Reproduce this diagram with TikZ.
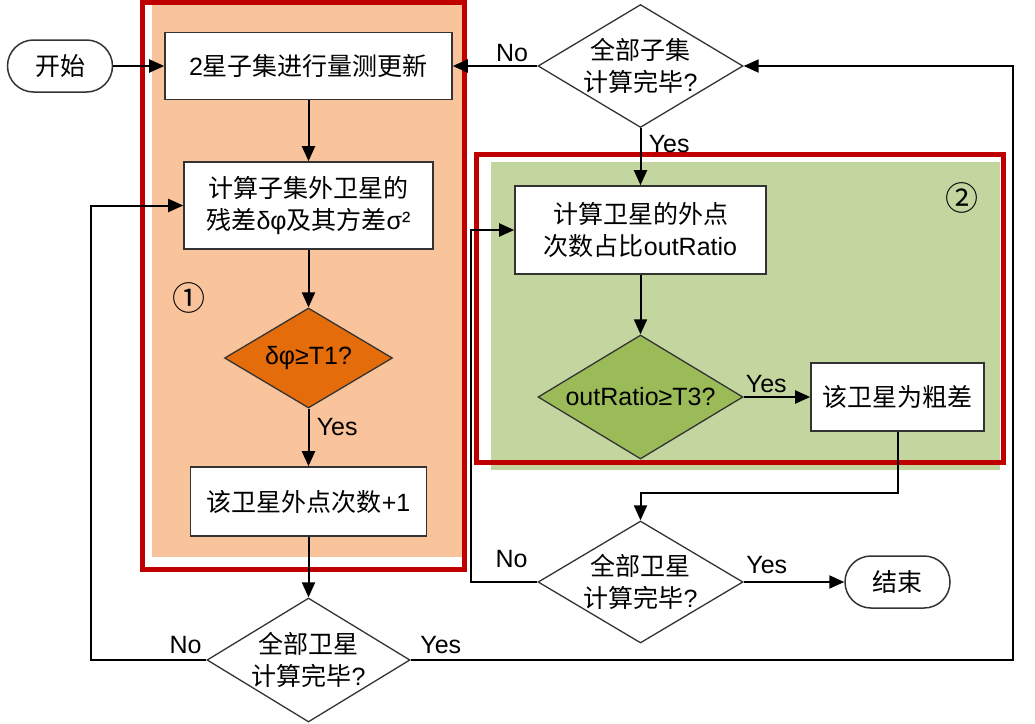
\documentclass[tikz,border=0pt]{standalone}
\usepackage{fontspec}
\setmainfont{Liberation Sans}
\newfontfamily\cjk{Noto Sans CJK SC}
\usetikzlibrary{shapes.geometric,arrows.meta}
\definecolor{frame}{HTML}{C00000}
\definecolor{orangebg}{HTML}{F9C49B}
\definecolor{orangedia}{HTML}{E46C0A}
\definecolor{greenbg}{HTML}{C4D69F}
\definecolor{greendia}{HTML}{9BBB59}
\begin{document}
\begin{tikzpicture}[x=1pt,y=-1pt,font=\fontsize{25}{32}\selectfont]
        \tikzstyle{process}=[rectangle,draw=black!80,line width=1.6pt,fill=white,inner sep=0pt,align=center]
        \tikzstyle{decision}=[diamond,draw=black!80,line width=1.3pt,fill=white,inner sep=-2pt,align=center]
        \tikzstyle{terminal}=[rectangle,rounded corners=26pt,draw=black!80,line width=1.5pt,fill=white,minimum width=105pt,minimum height=52pt]
        \tikzstyle{link}=[draw,line width=2pt,-{Triangle[length=15pt,width=13pt]}]
        \tikzstyle{region}=[draw=frame,line width=5pt]
        \tikzstyle{regionno}=[font=\fontsize{33}{33}\selectfont\cjk]
        \useasboundingbox (0,0) rectangle (1035,723);
        % region 1
        \fill[orangebg] (152,5) rectangle (462,557);
        \draw[region] (142.5,2.5) rectangle (464,569.5);
        \node [regionno] (one) at (189,298) {①};
        % region 2
        \fill[greenbg] (491,162) rectangle (1000,470);
        \draw[region] (476.5,154.5) rectangle (1003.5,462);
        \node [regionno] (two) at (962,198) {②};

        \node [terminal] (start) at (60,66) {\cjk 开始};
        \node [process,minimum width=287pt,minimum height=67pt] (upd) at (308.5,66) {2{\cjk 星子集进行量测更新}};
        \node [process,minimum width=249pt,minimum height=87pt] (resid) at (308.5,205.5) {{\cjk 计算子集外卫星的}\\{\cjk 残差}δφ{\cjk 及其方差}σ²};
        \node [decision,fill=orangedia,aspect=1.68,minimum width=168pt,minimum height=100pt] (dphi) at (308.5,358) {δφ≥T1?};
        \node [process,minimum width=236pt,minimum height=69pt] (cnt) at (308.5,501.5) {{\cjk 该卫星外点次数}+1};
        \node [decision,aspect=1.64,minimum width=203pt,minimum height=124pt] (allsat1) at (308.5,660) {{\cjk 全部卫星}\\{\cjk 计算完毕}?};
        \node [decision,aspect=1.67,minimum width=205pt,minimum height=123pt] (allsub) at (640.5,66) {{\cjk 全部子集}\\{\cjk 计算完毕}?};
        \node [process,minimum width=251pt,minimum height=88pt] (ratio) at (640.5,230) {{\cjk 计算卫星的外点}\\{\cjk 次数占比}outRatio};
        \node [decision,fill=greendia,aspect=1.65,minimum width=205pt,minimum height=124pt] (dratio) at (640.5,397) {outRatio≥T3?};
        \node [process,minimum width=173pt,minimum height=68pt] (gross) at (897.5,397) {\cjk 该卫星为粗差};
        \node [decision,aspect=1.68,minimum width=205pt,minimum height=122pt] (allsat2) at (640.5,582) {{\cjk 全部卫星}\\{\cjk 计算完毕}?};
        \node [terminal] (end) at (897.5,582) {\cjk 结束};

        \path[link] (start) -- (upd);
        \path[link] (upd) -- (resid);
        \path[link] (resid) -- (dphi);
        \path[link] (dphi) -- node[pos=0.32,right,xshift=4pt] {Yes} (cnt);
        \path[link] (cnt) -- (allsat1);
        \path[link] (allsat1.west) -- node[pos=0.18,above,yshift=2pt] {No} ++(-115,0) |- (resid.west);
        \path[link] (allsat1.east) -- node[pos=0.05,above,yshift=2pt] {Yes} ++(602,0) |- (allsub.east);
        \path[link] (allsub.west) -- node[pos=0.3,above] {No} (upd.east);
        \path[link] (allsub) -- node[pos=0.27,right,xshift=4pt] {Yes} (ratio);
        \path[link] (ratio) -- (dratio);
        \path[link] (dratio) -- node[pos=0.34,above] {Yes} (gross);
        \path[link] (gross.south) -- ++(0,61) -| (allsat2.north);
        \path[link] (allsat2.west) -- node[pos=0.39,above,yshift=10pt] {No} ++(-66,0) |- (ratio.west);
        \path[link] (allsat2) -- node[pos=0.23,above,yshift=4pt] {Yes} (end);
\end{tikzpicture}
\end{document}
